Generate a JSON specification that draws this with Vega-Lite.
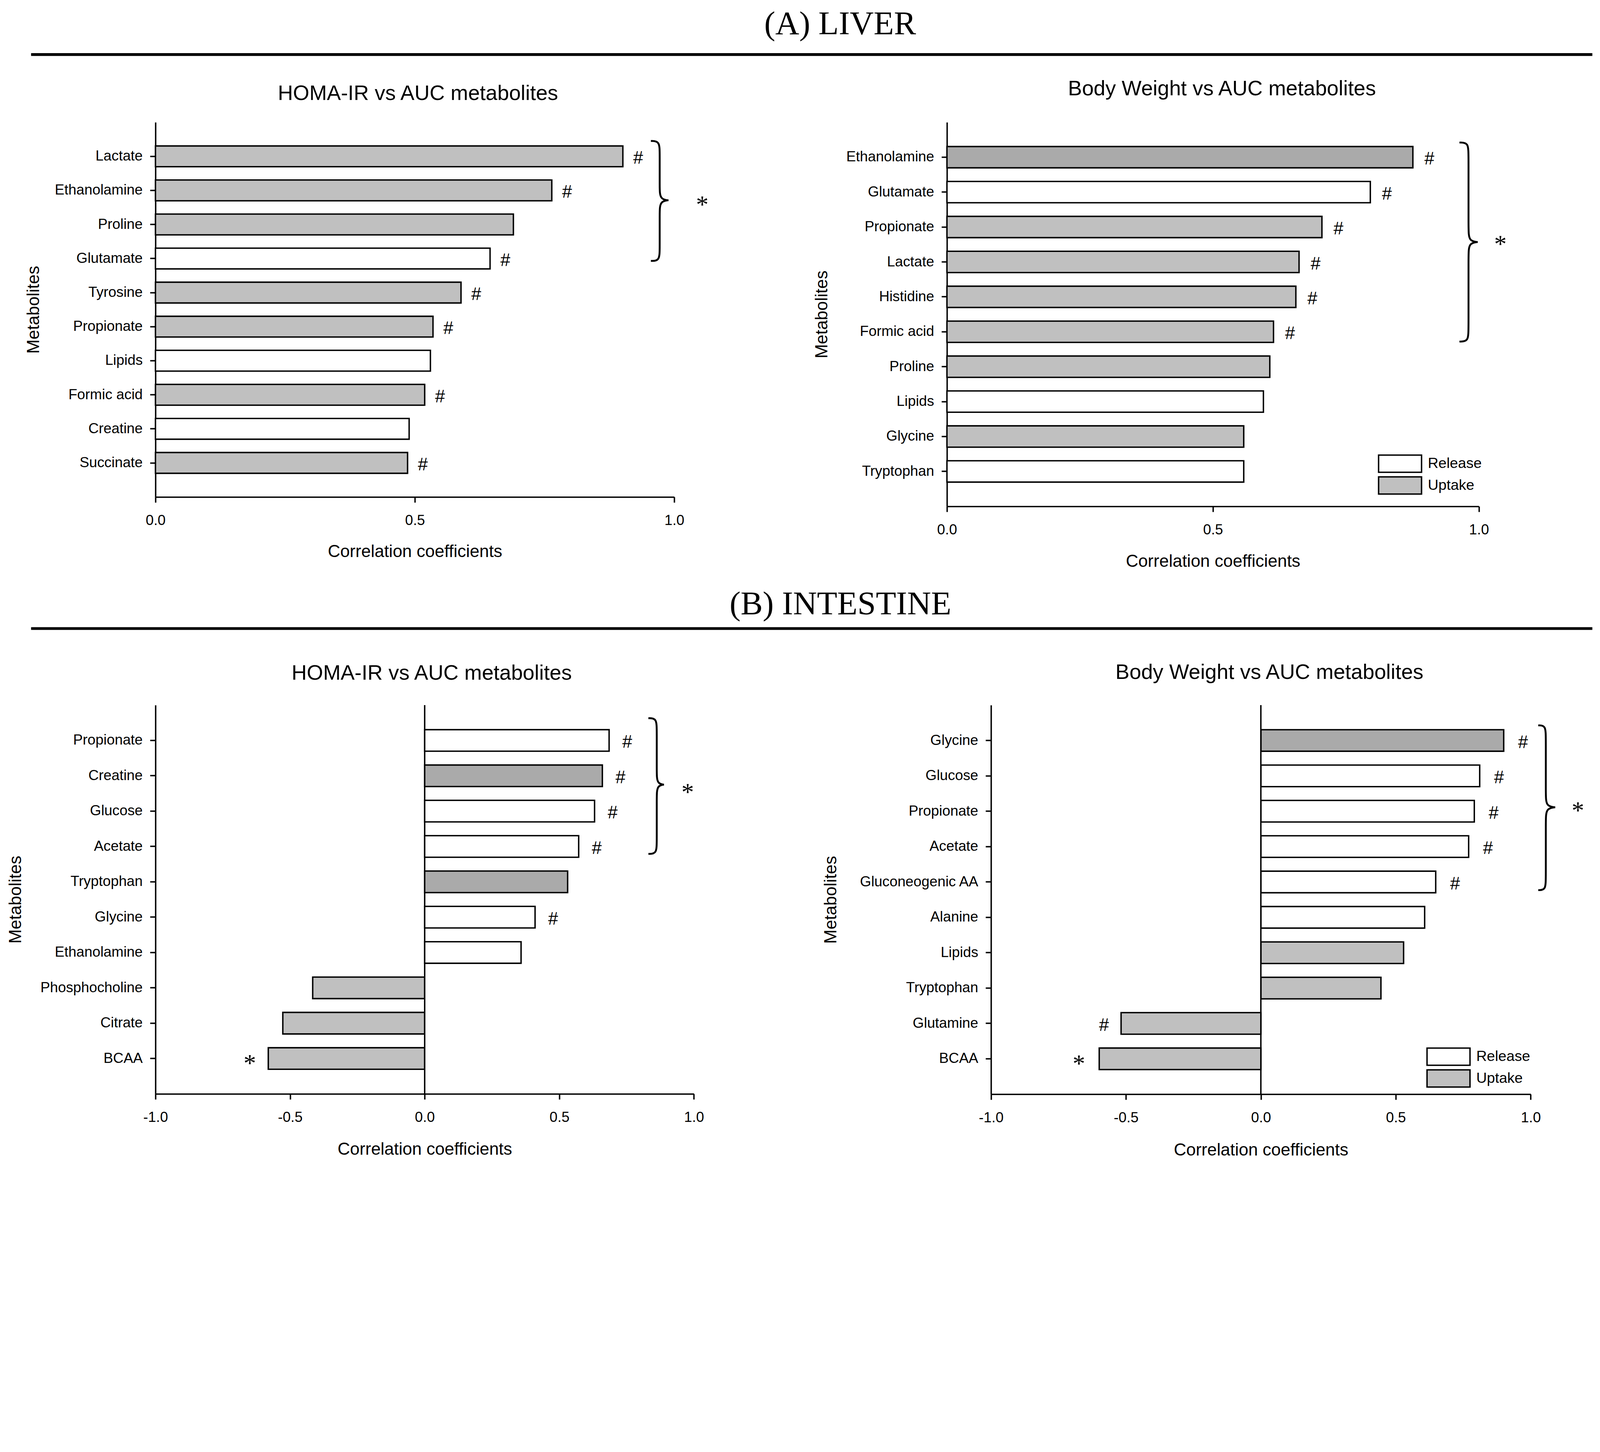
{
"$schema": "https://vega.github.io/schema/vega-lite/v6.json",
"background": "white",
"padding": {"left": 18, "top": 0, "right": 8, "bottom": 0},
"autosize": {"type": "pad"},
"bounds": "flush",
"columns": 2,
"align": {"row": "each", "column": "each"},
"spacing": {"row": 120, "column": 647.2},
"resolve": {"scale": {"fill": "independent"}, "legend": {"fill": "independent"}},
"datasets": {
  "liverHoma": [
    {"metabolite": "Lactate", "value": 0.901, "flux": "Uptake", "hash": "#"},
    {"metabolite": "Ethanolamine", "value": 0.764, "flux": "Uptake", "hash": "#"},
    {"metabolite": "Proline", "value": 0.690, "flux": "Uptake", "hash": ""},
    {"metabolite": "Glutamate", "value": 0.645, "flux": "Release", "hash": "#"},
    {"metabolite": "Tyrosine", "value": 0.589, "flux": "Uptake", "hash": "#"},
    {"metabolite": "Propionate", "value": 0.535, "flux": "Uptake", "hash": "#"},
    {"metabolite": "Lipids", "value": 0.530, "flux": "Release", "hash": ""},
    {"metabolite": "Formic acid", "value": 0.519, "flux": "Uptake", "hash": "#"},
    {"metabolite": "Creatine", "value": 0.489, "flux": "Release", "hash": ""},
    {"metabolite": "Succinate", "value": 0.486, "flux": "Uptake", "hash": "#"}
  ],
  "liverBW": [
    {"metabolite": "Ethanolamine", "value": 0.876, "flux": "Uptake2", "hash": "#"},
    {"metabolite": "Glutamate", "value": 0.796, "flux": "Release", "hash": "#"},
    {"metabolite": "Propionate", "value": 0.705, "flux": "Uptake", "hash": "#"},
    {"metabolite": "Lactate", "value": 0.662, "flux": "Uptake", "hash": "#"},
    {"metabolite": "Histidine", "value": 0.656, "flux": "Uptake", "hash": "#"},
    {"metabolite": "Formic acid", "value": 0.614, "flux": "Uptake", "hash": "#"},
    {"metabolite": "Proline", "value": 0.607, "flux": "Uptake", "hash": ""},
    {"metabolite": "Lipids", "value": 0.595, "flux": "Release", "hash": ""},
    {"metabolite": "Glycine", "value": 0.558, "flux": "Uptake", "hash": ""},
    {"metabolite": "Tryptophan", "value": 0.558, "flux": "Release", "hash": ""}
  ],
  "intHoma": [
    {"metabolite": "Propionate", "value": 0.685, "flux": "Release", "hash": "#", "star": ""},
    {"metabolite": "Creatine", "value": 0.660, "flux": "Uptake2", "hash": "#", "star": ""},
    {"metabolite": "Glucose", "value": 0.631, "flux": "Release", "hash": "#", "star": ""},
    {"metabolite": "Acetate", "value": 0.572, "flux": "Release", "hash": "#", "star": ""},
    {"metabolite": "Tryptophan", "value": 0.531, "flux": "Uptake2", "hash": "", "star": ""},
    {"metabolite": "Glycine", "value": 0.410, "flux": "Release", "hash": "#", "star": ""},
    {"metabolite": "Ethanolamine", "value": 0.358, "flux": "Release", "hash": "", "star": ""},
    {"metabolite": "Phosphocholine", "value": -0.416, "flux": "Uptake", "hash": "", "star": ""},
    {"metabolite": "Citrate", "value": -0.527, "flux": "Uptake", "hash": "", "star": ""},
    {"metabolite": "BCAA", "value": -0.581, "flux": "Uptake", "hash": "", "star": "*"}
  ],
  "intBW": [
    {"metabolite": "Glycine", "value": 0.900, "flux": "Uptake2", "hash": "#", "star": ""},
    {"metabolite": "Glucose", "value": 0.811, "flux": "Release", "hash": "#", "star": ""},
    {"metabolite": "Propionate", "value": 0.791, "flux": "Release", "hash": "#", "star": ""},
    {"metabolite": "Acetate", "value": 0.770, "flux": "Release", "hash": "#", "star": ""},
    {"metabolite": "Gluconeogenic AA", "value": 0.648, "flux": "Release", "hash": "#", "star": ""},
    {"metabolite": "Alanine", "value": 0.607, "flux": "Release", "hash": "", "star": ""},
    {"metabolite": "Lipids", "value": 0.529, "flux": "Uptake", "hash": "", "star": ""},
    {"metabolite": "Tryptophan", "value": 0.445, "flux": "Uptake", "hash": "", "star": ""},
    {"metabolite": "Glutamine", "value": -0.518, "flux": "Uptake", "hash": "#", "star": ""},
    {"metabolite": "BCAA", "value": -0.599, "flux": "Uptake", "hash": "", "star": "*"}
  ],
  "braces": [
    {"panel": "A1", "k": 1, "value": 0.955, "pos": 0.55},
    {"panel": "A1", "k": 2, "value": 0.972, "pos": 0.55},
    {"panel": "A1", "k": 3, "value": 0.972, "pos": 0.935},
    {"panel": "A1", "k": 4, "value": 0.972, "pos": 1.905},
    {"panel": "A1", "k": 5, "value": 0.972, "pos": 2.29},
    {"panel": "A1", "k": 6, "value": 0.9975, "pos": 2.29},
    {"panel": "A1", "k": 7, "value": 0.972, "pos": 2.29},
    {"panel": "A1", "k": 8, "value": 0.972, "pos": 2.675},
    {"panel": "A1", "k": 9, "value": 0.972, "pos": 3.685},
    {"panel": "A1", "k": 10, "value": 0.972, "pos": 4.07},
    {"panel": "A1", "k": 11, "value": 0.955, "pos": 4.07},
    {"panel": "A2", "k": 1, "value": 0.9636, "pos": 0.58},
    {"panel": "A2", "k": 2, "value": 0.9806, "pos": 0.58},
    {"panel": "A2", "k": 3, "value": 0.9806, "pos": 0.956},
    {"panel": "A2", "k": 4, "value": 0.9806, "pos": 3.054},
    {"panel": "A2", "k": 5, "value": 0.9806, "pos": 3.43},
    {"panel": "A2", "k": 6, "value": 1.0067, "pos": 3.43},
    {"panel": "A2", "k": 7, "value": 0.9806, "pos": 3.43},
    {"panel": "A2", "k": 8, "value": 0.9806, "pos": 3.806},
    {"panel": "A2", "k": 9, "value": 0.9806, "pos": 5.904},
    {"panel": "A2", "k": 10, "value": 0.9806, "pos": 6.28},
    {"panel": "A2", "k": 11, "value": 0.9636, "pos": 6.28},
    {"panel": "B1", "k": 1, "value": 0.831, "pos": 0.37},
    {"panel": "B1", "k": 2, "value": 0.862, "pos": 0.37},
    {"panel": "B1", "k": 3, "value": 0.862, "pos": 0.741},
    {"panel": "B1", "k": 4, "value": 0.862, "pos": 1.879},
    {"panel": "B1", "k": 5, "value": 0.862, "pos": 2.25},
    {"panel": "B1", "k": 6, "value": 0.9025, "pos": 2.25},
    {"panel": "B1", "k": 7, "value": 0.862, "pos": 2.25},
    {"panel": "B1", "k": 8, "value": 0.862, "pos": 2.621},
    {"panel": "B1", "k": 9, "value": 0.862, "pos": 3.839},
    {"panel": "B1", "k": 10, "value": 0.862, "pos": 4.21},
    {"panel": "B1", "k": 11, "value": 0.831, "pos": 4.21},
    {"panel": "B2", "k": 1, "value": 1.028, "pos": 0.574},
    {"panel": "B2", "k": 2, "value": 1.056, "pos": 0.574},
    {"panel": "B2", "k": 3, "value": 1.056, "pos": 0.945},
    {"panel": "B2", "k": 4, "value": 1.056, "pos": 2.519},
    {"panel": "B2", "k": 5, "value": 1.056, "pos": 2.89},
    {"panel": "B2", "k": 6, "value": 1.1085, "pos": 2.89},
    {"panel": "B2", "k": 7, "value": 1.056, "pos": 2.89},
    {"panel": "B2", "k": 8, "value": 1.056, "pos": 3.261},
    {"panel": "B2", "k": 9, "value": 1.056, "pos": 4.859},
    {"panel": "B2", "k": 10, "value": 1.056, "pos": 5.23},
    {"panel": "B2", "k": 11, "value": 1.028, "pos": 5.23}
  ],
  "groupStars": [
    {"panel": "A1", "value": 1.054, "pos": 2.376, "label": "*"},
    {"panel": "A2", "value": 1.0405, "pos": 3.47, "label": "*"},
    {"panel": "B1", "value": 0.977, "pos": 2.42, "label": "*"},
    {"panel": "B2", "value": 1.175, "pos": 2.94, "label": "*"}
  ]
},
"concat": [
  {
    "width": 1000, "height": 186.4,
    "data": {"values": [{"section": "(A) LIVER"}]},
    "layer": [
      {"mark": {"type": "rule", "stroke": "black", "strokeWidth": 7.2},
       "encoding": {
         "x": {"datum": -0.3184, "type": "quantitative", "scale": {"domain": [0, 1], "nice": false, "zero": false}, "axis": null},
         "x2": {"datum": 3.6784},
         "y": {"datum": 0.2832, "type": "quantitative", "scale": {"domain": [0, 1], "nice": false, "zero": false}, "axis": null}}},
      {"mark": {"type": "text", "font": "Liberation Serif", "fontSize": 84.8, "baseline": "alphabetic", "align": "center", "color": "black"},
       "encoding": {
         "x": {"datum": 1.7527, "type": "quantitative", "scale": {"domain": [0, 1], "nice": false, "zero": false}, "axis": null},
         "y": {"datum": 0.5584, "type": "quantitative", "scale": {"domain": [0, 1], "nice": false, "zero": false}, "axis": null},
         "text": {"field": "section"}}}
    ]
  },
  {
    "width": 1, "height": 1,
    "data": {"values": [{"t": ""}]},
    "mark": {"type": "text"},
    "encoding": {"text": {"field": "t"}}
  },
  {
    "width": 1328, "height": 959.2,
    "title": {"text": "HOMA-IR vs AUC metabolites", "offset": 46, "dx": 8},
    "encoding": {"x": {"field": "value", "type": "quantitative", "scale": {"domain": [0, 1], "nice": false, "zero": false},
      "axis": {"values": [0, 0.5, 1], "format": ".1f", "title": "Correlation coefficients", "titleY": 140}}},
    "resolve": {"scale": {"y": "independent"}},
    "layer": [
      {"data": {"name": "liverHoma"},
       "encoding": {"y": {"field": "metabolite", "type": "nominal", "sort": null, "scale": {"type": "band", "paddingInner": 0.39, "paddingOuter": 0.695}, "axis": {"title": "Metabolites", "titleX": -311.2}}},
       "layer": [
         {"mark": {"type": "bar", "stroke": "black", "strokeWidth": 3.6},
          "encoding": {"fill": {"field": "flux", "type": "nominal", "scale": {"domain": ["Release", "Uptake", "Uptake2"], "range": ["#ffffff", "#c0c0c0", "#aaaaaa"]}, "legend": null}}},
         {"mark": {"type": "text", "align": "left", "baseline": "alphabetic", "dx": 26.4, "dy": 19, "fontSize": 45.6, "font": "Liberation Sans", "color": "black"},
          "encoding": {"text": {"field": "hash"}}}
       ]},
      {"data": {"name": "braces"}, "transform": [{"filter": "datum.panel == 'A1'"}],
       "mark": {"type": "line", "interpolate": "basis", "stroke": "black", "strokeWidth": 4.8},
       "encoding": {"y": {"field": "pos", "type": "quantitative", "scale": {"domain": [0, 11], "reverse": true, "nice": false, "zero": false}, "axis": null}, "order": {"field": "k", "type": "quantitative"}}},
      {"data": {"name": "groupStars"}, "transform": [{"filter": "datum.panel == 'A1'"}],
       "mark": {"type": "text", "font": "Liberation Serif", "fontSize": 64, "baseline": "alphabetic", "align": "center", "dy": 25, "color": "black"},
       "encoding": {"y": {"field": "pos", "type": "quantitative", "scale": {"domain": [0, 11], "reverse": true, "nice": false, "zero": false}, "axis": null}, "text": {"field": "label"}}}
    ]
  },
  {
    "width": 1361.6, "height": 983.2,
    "title": {"text": "Body Weight vs AUC metabolites", "offset": 58, "dx": 23.2},
    "encoding": {"x": {"field": "value", "type": "quantitative", "scale": {"domain": [0, 1], "nice": false, "zero": false},
      "axis": {"values": [0, 0.5, 1], "format": ".1f", "title": "Correlation coefficients", "titleY": 140.8}}},
    "resolve": {"scale": {"y": "independent"}},
    "layer": [
      {"data": {"name": "liverBW"},
       "encoding": {"y": {"field": "metabolite", "type": "nominal", "sort": null, "scale": {"type": "band", "paddingInner": 0.39, "paddingOuter": 0.695}, "axis": {"title": "Metabolites", "titleX": -320}}},
       "layer": [
         {"mark": {"type": "bar", "stroke": "black", "strokeWidth": 3.6},
          "encoding": {"fill": {"field": "flux", "type": "nominal", "scale": {"domain": ["Release", "Uptake", "Uptake2"], "range": ["#ffffff", "#c0c0c0", "#aaaaaa"]},
            "legend": {"orient": "none", "legendX": 1103, "legendY": 850, "values": ["Release", "Uptake"], "title": null}}}},
         {"mark": {"type": "text", "align": "left", "baseline": "alphabetic", "dx": 29.6, "dy": 19, "fontSize": 45.6, "font": "Liberation Sans", "color": "black"},
          "encoding": {"text": {"field": "hash"}}}
       ]},
      {"data": {"name": "braces"}, "transform": [{"filter": "datum.panel == 'A2'"}],
       "mark": {"type": "line", "interpolate": "basis", "stroke": "black", "strokeWidth": 4.8},
       "encoding": {"y": {"field": "pos", "type": "quantitative", "scale": {"domain": [0, 11], "reverse": true, "nice": false, "zero": false}, "axis": null}, "order": {"field": "k", "type": "quantitative"}}},
      {"data": {"name": "groupStars"}, "transform": [{"filter": "datum.panel == 'A2'"}],
       "mark": {"type": "text", "font": "Liberation Serif", "fontSize": 64, "baseline": "alphabetic", "align": "center", "dy": 23, "color": "black"},
       "encoding": {"y": {"field": "pos", "type": "quantitative", "scale": {"domain": [0, 11], "reverse": true, "nice": false, "zero": false}, "axis": null}, "text": {"field": "label"}}}
    ]
  },
  {
    "width": 1000, "height": 267.2,
    "data": {"values": [{"section": "(B) INTESTINE"}]},
    "layer": [
      {"mark": {"type": "rule", "stroke": "black", "strokeWidth": 7.2},
       "encoding": {
         "x": {"datum": -0.3184, "type": "quantitative", "scale": {"domain": [0, 1], "nice": false, "zero": false}, "axis": null},
         "x2": {"datum": 3.6784},
         "y": {"datum": 0.2815, "type": "quantitative", "scale": {"domain": [0, 1], "nice": false, "zero": false}, "axis": null}}},
      {"mark": {"type": "text", "font": "Liberation Serif", "fontSize": 84.8, "baseline": "alphabetic", "align": "center", "color": "black"},
       "encoding": {
         "x": {"datum": 1.7535, "type": "quantitative", "scale": {"domain": [0, 1], "nice": false, "zero": false}, "axis": null},
         "y": {"datum": 0.4169, "type": "quantitative", "scale": {"domain": [0, 1], "nice": false, "zero": false}, "axis": null},
         "text": {"field": "section"}}}
    ]
  },
  {
    "width": 1, "height": 1,
    "data": {"values": [{"t": ""}]},
    "mark": {"type": "text"},
    "encoding": {"text": {"field": "t"}}
  },
  {
    "width": 1378.4, "height": 995.2,
    "title": {"text": "HOMA-IR vs AUC metabolites", "offset": 52.4, "dx": 18},
    "encoding": {"x": {"field": "value", "type": "quantitative", "scale": {"domain": [-1, 1], "nice": false, "zero": false},
      "axis": {"values": [-1, -0.5, 0, 0.5, 1], "format": ".1f", "labelExpr": "replace(datum.label, '\u2212', '-')", "title": "Correlation coefficients", "titleY": 142.4}}},
    "resolve": {"scale": {"y": "independent"}},
    "layer": [
      {"data": {"name": "intHoma"},
       "encoding": {"y": {"field": "metabolite", "type": "nominal", "sort": null, "scale": {"type": "band", "paddingInner": 0.39, "paddingOuter": 0.695}, "axis": {"title": "Metabolites", "titleX": -357.6}}},
       "layer": [
         {"mark": {"type": "bar", "stroke": "black", "strokeWidth": 3.6},
          "encoding": {"fill": {"field": "flux", "type": "nominal", "scale": {"domain": ["Release", "Uptake", "Uptake2"], "range": ["#ffffff", "#c0c0c0", "#aaaaaa"]}, "legend": null}}},
         {"mark": {"type": "text", "align": "left", "baseline": "alphabetic", "dx": 33.6, "dy": 19, "fontSize": 45.6, "font": "Liberation Sans", "color": "black"},
          "encoding": {"text": {"field": "hash"}}},
         {"mark": {"type": "text", "align": "right", "baseline": "alphabetic", "dx": -31.2, "dy": 33, "fontSize": 64, "font": "Liberation Serif", "color": "black"},
          "encoding": {"text": {"field": "star"}}}
       ]},
      {"data": {"values": [{"value": 0}]},
       "mark": {"type": "rule", "stroke": "black", "strokeWidth": 3.6},
       "encoding": {}},
      {"data": {"name": "braces"}, "transform": [{"filter": "datum.panel == 'B1'"}],
       "mark": {"type": "line", "interpolate": "basis", "stroke": "black", "strokeWidth": 4.8},
       "encoding": {"y": {"field": "pos", "type": "quantitative", "scale": {"domain": [0, 11], "reverse": true, "nice": false, "zero": false}, "axis": null}, "order": {"field": "k", "type": "quantitative"}}},
      {"data": {"name": "groupStars"}, "transform": [{"filter": "datum.panel == 'B1'"}],
       "mark": {"type": "text", "font": "Liberation Serif", "fontSize": 64, "baseline": "alphabetic", "align": "center", "dy": 25, "color": "black"},
       "encoding": {"y": {"field": "pos", "type": "quantitative", "scale": {"domain": [0, 11], "reverse": true, "nice": false, "zero": false}, "axis": null}, "text": {"field": "label"}}}
    ]
  },
  {
    "width": 1494.4, "height": 996,
    "title": {"text": "Body Weight vs AUC metabolites", "offset": 54, "dx": 78.4},
    "encoding": {"x": {"field": "value", "type": "quantitative", "scale": {"domain": [-1, 1], "nice": false, "zero": false, "rangeMin": 112.8, "rangeMax": 1494.4},
      "axis": {"values": [-1, -0.5, 0, 0.5, 1], "format": ".1f", "labelExpr": "replace(datum.label, '\u2212', '-')", "title": "Correlation coefficients", "titleY": 143.2, "titleX": 803.6}}},
    "resolve": {"scale": {"y": "independent"}},
    "layer": [
      {"data": {"name": "intBW"},
       "encoding": {"y": {"field": "metabolite", "type": "nominal", "sort": null, "scale": {"type": "band", "paddingInner": 0.39, "paddingOuter": 0.695}, "axis": {"title": "Metabolites", "titleX": -409.6, "offset": -112.8}}},
       "layer": [
         {"mark": {"type": "bar", "stroke": "black", "strokeWidth": 3.6},
          "encoding": {"fill": {"field": "flux", "type": "nominal", "scale": {"domain": ["Release", "Uptake", "Uptake2"], "range": ["#ffffff", "#c0c0c0", "#aaaaaa"]},
            "legend": {"orient": "none", "legendX": 1227, "legendY": 876, "values": ["Release", "Uptake"], "title": null}}}},
         {"mark": {"type": "text", "align": "left", "baseline": "alphabetic", "dx": 36.8, "dy": 19, "fontSize": 45.6, "font": "Liberation Sans", "color": "black"},
          "encoding": {"text": {"condition": {"test": "datum.value > 0", "field": "hash"}, "value": ""}}},
         {"mark": {"type": "text", "align": "right", "baseline": "alphabetic", "dx": -31.2, "dy": 19, "fontSize": 45.6, "font": "Liberation Sans", "color": "black"},
          "encoding": {"text": {"condition": {"test": "datum.value < 0", "field": "hash"}, "value": ""}}},
         {"mark": {"type": "text", "align": "right", "baseline": "alphabetic", "dx": -36, "dy": 34, "fontSize": 64, "font": "Liberation Serif", "color": "black"},
          "encoding": {"text": {"field": "star"}}}
       ]},
      {"data": {"values": [{"value": 0}]},
       "mark": {"type": "rule", "stroke": "black", "strokeWidth": 3.6},
       "encoding": {}},
      {"data": {"name": "braces"}, "transform": [{"filter": "datum.panel == 'B2'"}],
       "mark": {"type": "line", "interpolate": "basis", "stroke": "black", "strokeWidth": 4.8},
       "encoding": {"y": {"field": "pos", "type": "quantitative", "scale": {"domain": [0, 11], "reverse": true, "nice": false, "zero": false}, "axis": null}, "order": {"field": "k", "type": "quantitative"}}},
      {"data": {"name": "groupStars"}, "transform": [{"filter": "datum.panel == 'B2'"}],
       "mark": {"type": "text", "font": "Liberation Serif", "fontSize": 64, "baseline": "alphabetic", "align": "center", "dy": 25, "color": "black"},
       "encoding": {"y": {"field": "pos", "type": "quantitative", "scale": {"domain": [0, 11], "reverse": true, "nice": false, "zero": false}, "axis": null}, "text": {"field": "label"}}}
    ]
  }
],
"config": {
  "view": {"stroke": null},
  "font": "Liberation Sans",
  "title": {"font": "Liberation Sans", "fontSize": 53.8, "fontWeight": "normal", "color": "black", "anchor": "middle", "frame": "group", "baseline": "middle"},
  "axis": {"domainColor": "black", "domainWidth": 3.6, "tickColor": "black", "tickWidth": 3.6, "tickSize": 14, "labelColor": "black", "labelFont": "Liberation Sans", "labelFontSize": 36.8, "labelLimit": 0, "titleColor": "black", "titleFont": "Liberation Sans", "titleFontSize": 44, "titleFontWeight": "normal", "grid": false, "titleBaseline": "middle", "labelFlush": false, "labelOverlap": false},
  "axisX": {"labelPadding": 28},
  "axisY": {"labelPadding": 19.2},
  "legend": {"labelFont": "Liberation Sans", "labelFontSize": 37.6, "labelColor": "black", "padding": 0, "symbolStrokeColor": "black", "symbolStrokeWidth": 3.6, "symbolType": "M-1,-1H4V1H-1Z", "symbolSize": 1936, "symbolOpacity": 1, "labelOffset": 80, "rowPadding": -4.2}
}
}
